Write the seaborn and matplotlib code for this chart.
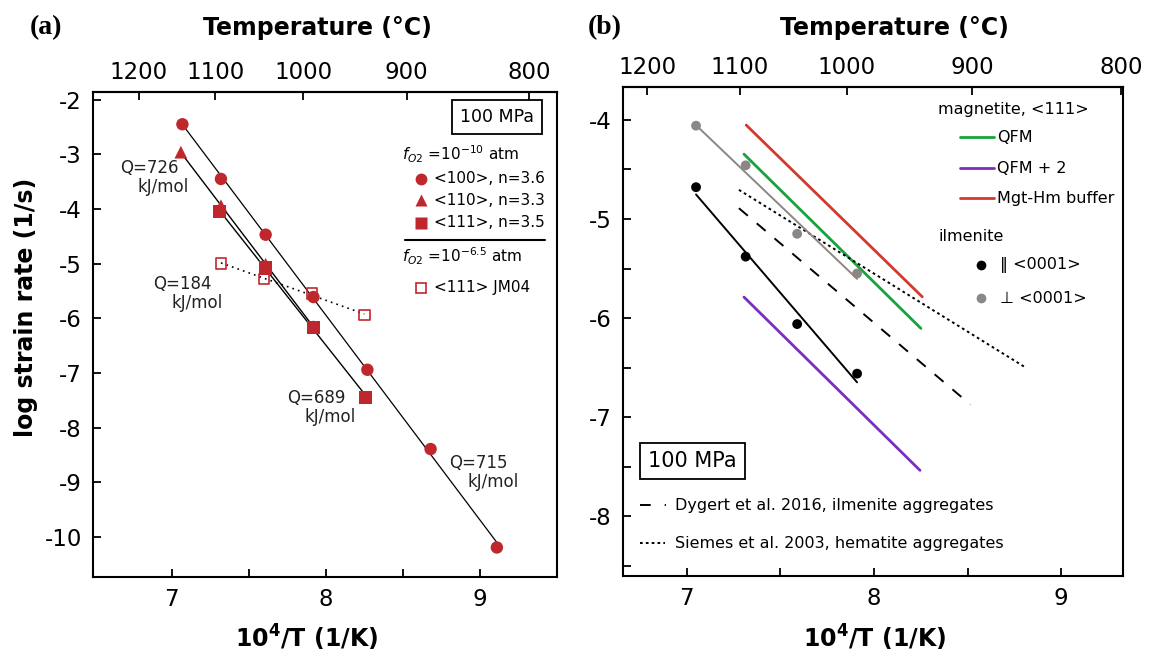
import numpy as np
import matplotlib
matplotlib.use("Agg")
import matplotlib.pyplot as plt
from matplotlib.ticker import MultipleLocator, FixedLocator
import seaborn as sns

# ---- panel (a): magnetite single crystals at 100 MPa ----
a_100_x = [7.07, 7.32, 7.61, 7.92, 8.27, 8.68, 9.11]
a_100_y = [-2.45, -3.45, -4.47, -5.61, -6.94, -8.39, -10.19]
a_110_x = [7.06, 7.32, 7.61, 7.92]
a_110_y = [-2.96, -3.94, -5.01, -6.15]
a_111_x = [7.31, 7.61, 7.92, 8.26]
a_111_y = [-4.05, -5.08, -6.17, -7.44]
a_jm04_x = [7.32, 7.60, 7.91, 8.25]
a_jm04_y = [-4.99, -5.28, -5.54, -5.94]

a_q_labels = ["Q=726", "Q=184", "Q=689", "Q=715"]

# ---- panel (b): magnetite flow laws vs ilmenite ----
b_par_x = [7.05, 7.315, 7.59, 7.91]
b_par_y = [-4.68, -5.38, -6.06, -6.56]
b_perp_x = [7.05, 7.315, 7.59, 7.91]
b_perp_y = [-4.06, -4.46, -5.15, -5.55]

qfm_x = [7.306, 8.251]
qfm_y = [-4.347, -6.104]
qfm2_x = [7.306, 8.246]
qfm2_y = [-5.788, -7.535]
mgthm_x = [7.318, 8.258]
mgthm_y = [-4.054, -5.785]
dygert_x = [7.279, 8.515]
dygert_y = [-4.892, -6.872]
siemes_x = [7.279, 8.813]
siemes_y = [-4.707, -6.502]

temp_ticks = [1200, 1100, 1000, 900, 800]

RED = "#c0272d"
GREEN = "#16a33c"
PURPLE = "#7a2fbe"
LRED = "#d13a2c"
GREY = "#8a8784"

sns.set_style("ticks")
plt.rcParams["font.family"] = ["DejaVu Sans"]
plt.rcParams["axes.unicode_minus"] = False
plt.rcParams["axes.linewidth"] = 1.5
for key in ["text.color", "axes.labelcolor", "xtick.color", "ytick.color",
            "axes.edgecolor"]:
    plt.rcParams[key] = "black"


def k_to_c(x):
    x = np.asarray(x, dtype=float)
    with np.errstate(divide="ignore", invalid="ignore"):
        return 1e4 / x - 273.15


def c_to_k(t):
    t = np.asarray(t, dtype=float)
    with np.errstate(divide="ignore", invalid="ignore"):
        return 1e4 / (t + 273.15)


def style_axes(ax, label_x, top_label_x, top_label_y):
    ax.tick_params(which="both", direction="in", length=6, width=1.3,
                   labelsize=16.5, top=False, right=False, pad=8)
    ax.xaxis.set_major_locator(MultipleLocator(1))
    ax.xaxis.set_minor_locator(FixedLocator([7.5, 8.5]))
    for s in ax.spines.values():
        s.set_visible(True)
        s.set_linewidth(1.5)
    ax.set_xlabel(r"10$^{\mathbf{4}}$/T (1/K)", fontsize=17, fontweight="bold")
    ax.xaxis.set_label_coords(label_x, -0.095)
    sec = ax.secondary_xaxis("top", functions=(k_to_c, c_to_k))
    sec.xaxis.set_major_locator(FixedLocator(temp_ticks))
    sec.tick_params(direction="in", length=6, width=1.3, labelsize=16.5, pad=6)
    ax.text(top_label_x, top_label_y, "Temperature (°C)", transform=ax.transAxes,
            fontsize=17, fontweight="bold", ha="center", va="center")
    return sec


fig = plt.figure(figsize=(11.5, 6.55), dpi=100)
ax_a = fig.add_axes([93 / 1150, 78 / 655, 464 / 1150, 485 / 655])
ax_b = fig.add_axes([623 / 1150, 79 / 655, 500 / 1150, 489 / 655])

# ================= panel (a) =================
ax = ax_a
ax.set_xlim(6.49, 9.5)
ax.set_ylim(-10.73, -1.86)

sns.regplot(x=np.array(a_100_x), y=np.array(a_100_y), ax=ax, scatter=False,
            ci=None, truncate=True, color="black", line_kws={"lw": 0.9})
sns.regplot(x=np.array(a_110_x), y=np.array(a_110_y), ax=ax, scatter=False,
            ci=None, truncate=True, color="black", line_kws={"lw": 1.0})
sns.regplot(x=np.array(a_111_x), y=np.array(a_111_y), ax=ax, scatter=False,
            ci=None, truncate=True, color="black", line_kws={"lw": 1.0})
sns.regplot(x=np.array(a_jm04_x), y=np.array(a_jm04_y), ax=ax, scatter=False,
            ci=None, truncate=True, color="black",
            line_kws={"lw": 1.2, "linestyle": (0, (1, 2.5))})

sns.scatterplot(x=a_110_x, y=a_110_y, ax=ax, marker="^", s=85, color=RED,
                edgecolor="none", zorder=3)
sns.scatterplot(x=a_111_x, y=a_111_y, ax=ax, marker="s", s=90, color=RED,
                edgecolor="none", zorder=3)
sns.scatterplot(x=a_100_x, y=a_100_y, ax=ax, marker="o", s=80, color=RED,
                edgecolor="none", zorder=3)
sns.scatterplot(x=a_jm04_x, y=a_jm04_y, ax=ax, marker="s", s=60,
                facecolor="none", edgecolor=RED, linewidth=1.2, zorder=3)

# activation energy labels
q_pos = [(6.853, -3.245), (7.071, -5.377), (7.937, -7.450), (8.993, -8.638)]
for lab, (qx, qy) in zip(a_q_labels, q_pos):
    ax.text(qx, qy, lab, fontsize=12, ha="center", va="center", color="#222222")
    ax.text(qx + 0.092, qy - 0.35, "kJ/mol", fontsize=12, ha="center",
            va="center", color="#222222")

ax.set_yticks(np.arange(-10, -1, 1))
ax.set_ylabel("log strain rate (1/s)", fontsize=17, fontweight="bold")
ax.yaxis.set_label_coords(-0.118, 0.555)
style_axes(ax, 0.461, 0.483, 1.132)

# legend (a)
tr = ax.transAxes
ax.text(0.871, 0.948, "100 MPa", transform=tr, fontsize=12.5, ha="center",
        va="center", bbox=dict(boxstyle="square,pad=0.45", fc="white",
                               ec="black", lw=1.3))
ax.text(0.666, 0.872, r"$f_{O2}$ =10$^{-10}$ atm", transform=tr, fontsize=11,
        ha="left", va="center")
for yy, mk, ms in [(0.821, "o", 8.5), (0.777, "^", 8.5), (0.730, "s", 8.5)]:
    ax.plot([0.707], [yy], transform=tr, marker=mk, ms=ms, color=RED,
            mec="none", linestyle="none", clip_on=False)
ax.text(0.735, 0.821, "<100>, n=3.6", transform=tr, fontsize=11, va="center")
ax.text(0.735, 0.777, "<110>, n=3.3", transform=tr, fontsize=11, va="center")
ax.text(0.735, 0.730, "<111>, n=3.5", transform=tr, fontsize=11, va="center")
ax.plot([0.672, 0.974], [0.694, 0.694], transform=tr, color="black", lw=1.5)
ax.text(0.666, 0.662, r"$f_{O2}$ =10$^{-6.5}$ atm", transform=tr, fontsize=11,
        ha="left", va="center")
ax.plot([0.707], [0.596], transform=tr, marker="s", ms=7.5, mfc="white",
        mec=RED, mew=1.2, linestyle="none")
ax.text(0.735, 0.596, "<111> JM04", transform=tr, fontsize=11, va="center")

# ================= panel (b) =================
ax = ax_b
ax.set_xlim(6.66, 9.33)
ax.set_ylim(-8.6, -3.67)

sns.lineplot(x=qfm_x, y=qfm_y, ax=ax, color=GREEN, lw=2.0)
sns.lineplot(x=qfm2_x, y=qfm2_y, ax=ax, color=PURPLE, lw=2.0)
sns.lineplot(x=mgthm_x, y=mgthm_y, ax=ax, color=LRED, lw=2.0)
sns.lineplot(x=dygert_x, y=dygert_y, ax=ax, color="black", lw=1.4,
             linestyle=(0, (6, 6)))
sns.lineplot(x=siemes_x, y=siemes_y, ax=ax, color="black", lw=1.4,
             linestyle=(0, (1.4, 1.6)))

sns.regplot(x=np.array(b_perp_x), y=np.array(b_perp_y), ax=ax, scatter=False,
            ci=None, truncate=True, color=GREY, line_kws={"lw": 1.4})
sns.regplot(x=np.array(b_par_x), y=np.array(b_par_y), ax=ax, scatter=False,
            ci=None, truncate=True, color="black", line_kws={"lw": 1.4})
sns.scatterplot(x=b_perp_x, y=b_perp_y, ax=ax, s=50, color=GREY,
                edgecolor="none", zorder=3)
sns.scatterplot(x=b_par_x, y=b_par_y, ax=ax, s=50, color="black",
                edgecolor="none", zorder=3)

ax.yaxis.set_major_locator(MultipleLocator(1))
ax.yaxis.set_minor_locator(MultipleLocator(0.5))
style_axes(ax, 0.504, 0.542, 1.121)
ax.set_ylabel("")

# legend (b)
tr = ax.transAxes
ax.text(0.63, 0.953, "magnetite, <111>", transform=tr, fontsize=11.5,
        va="center")
for yy, col, lab in [(0.897, GREEN, "QFM"), (0.834, PURPLE, "QFM + 2"),
                     (0.772, LRED, "Mgt-Hm buffer")]:
    ax.plot([0.674, 0.742], [yy, yy], transform=tr, color=col, lw=2.0)
    ax.text(0.748, yy, lab, transform=tr, fontsize=11.5, va="center")
ax.text(0.63, 0.694, "ilmenite", transform=tr, fontsize=11.5, va="center")
ax.plot([0.715], [0.636], transform=tr, marker="o", ms=7, color="black",
        mec="none", linestyle="none")
ax.plot([0.715], [0.568], transform=tr, marker="o", ms=7, color=GREY,
        mec="none", linestyle="none")
ax.text(0.755, 0.636, "‖ <0001>", transform=tr, fontsize=11.5, va="center")
ax.text(0.755, 0.568, "⊥ <0001>", transform=tr, fontsize=11.5, va="center")

ax.text(0.139, 0.235, "100 MPa", transform=tr, fontsize=15, ha="center",
        va="center", bbox=dict(boxstyle="square,pad=0.4", fc="white",
                               ec="black", lw=1.3))
ax.plot([0.034, 0.086], [0.145, 0.145], transform=tr, color="black", lw=1.4,
        linestyle=(0, (5.5, 7.2)))
ax.text(0.104, 0.145, "Dygert et al. 2016, ilmenite aggregates", transform=tr,
        fontsize=11.5, va="center")
ax.plot([0.034, 0.084], [0.067, 0.067], transform=tr, color="black", lw=1.4,
        linestyle=(0, (1.4, 1.6)))
ax.text(0.104, 0.067, "Siemes et al. 2003, hematite aggregates", transform=tr,
        fontsize=11.5, va="center")

fig.text(30 / 1150, 1 - 28 / 655, "(a)", family="Liberation Serif",
         fontweight="bold", fontsize=20, va="center", ha="left")
fig.text(588 / 1150, 1 - 28 / 655, "(b)", family="Liberation Serif",
         fontweight="bold", fontsize=20, va="center", ha="left")

fig.savefig("out.png", dpi=100)
